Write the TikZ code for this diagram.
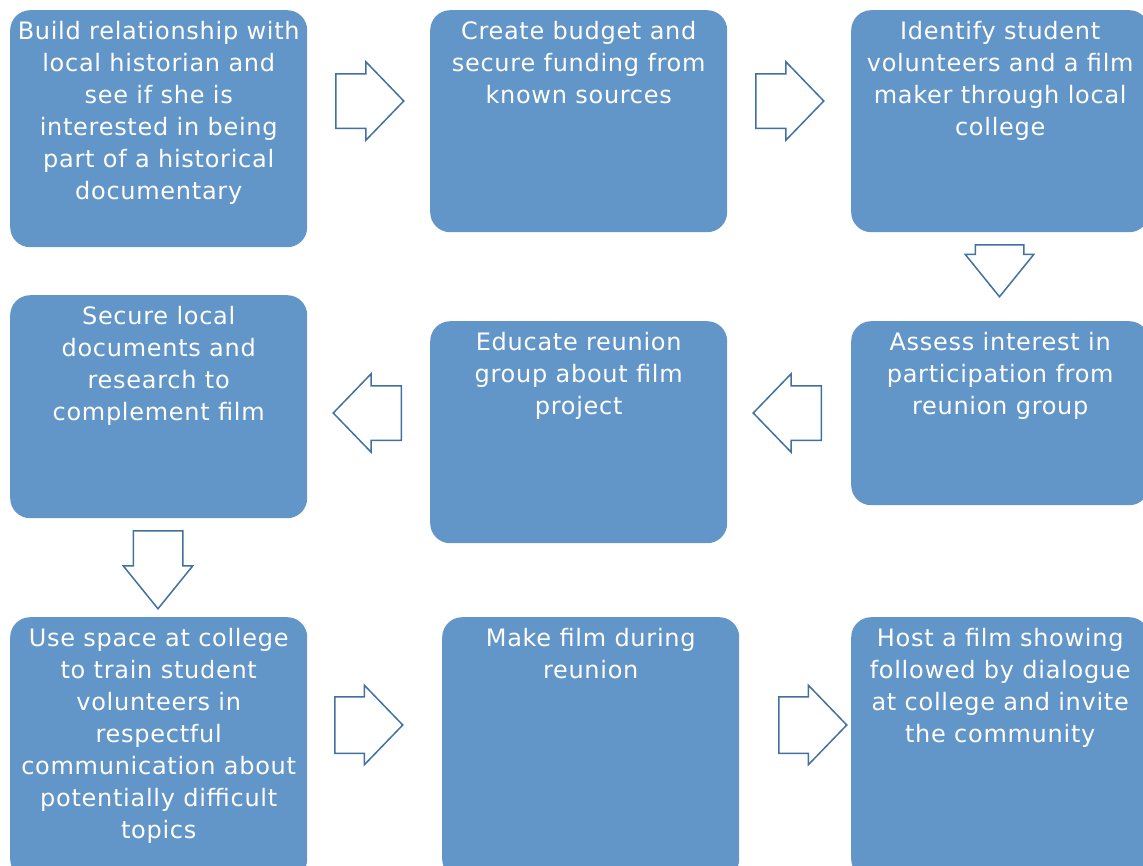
\documentclass[tikz,border=0pt]{standalone}
\usepackage{fontspec}
\setmainfont{DejaVu Sans}
\usepackage{tikz}
\definecolor{stageblue}{RGB}{98,149,200}
\definecolor{arrowblue}{RGB}{65,113,160}
\usetikzlibrary{positioning,shapes.arrows}
\tikzset{%
  stage/.style={rectangle, rounded corners=20pt, fill=stageblue, inner sep=0pt,
    anchor=north west},% blue process box
  stagetext/.style={align=center, inner sep=0pt, text=white,
    font=\fontsize{24}{32}\selectfont\addfontfeatures{LetterSpace=3}},% text at top of box
  flow/.style={draw=arrowblue, fill=white, line width=1.5pt, shape=single arrow,
    inner sep=0pt, text depth=0pt, text height=53pt, single arrow tip angle=92,
    minimum height=68pt, single arrow head extend=12pt, anchor=tail},% block arrow pointing right
  flowleft/.style={flow, shape border rotate=180},% block arrow pointing left
  flowdown/.style={flow, shape border rotate=270, single arrow tip angle=78,
    text height=0pt, text width=47pt, single arrow head extend=10pt}% block arrow pointing down
}

\begin{document}
\begin{tikzpicture}[x=1pt, y=-1pt]
\useasboundingbox (0,0) rectangle (1143,865);
\clip (0,0) rectangle (1143,865);

% first row
\node[stage, minimum width=297pt, minimum height=237pt] (a1) at (10,10) {};
\node[stage, minimum width=297pt, minimum height=222pt] (b1) at (430,10) {};
\node[stage, minimum width=298pt, minimum height=222pt] (c1) at (851,10) {};

% second row
\node[stage, minimum width=297pt, minimum height=223pt] (a2) at (10,295) {};
\node[stage, minimum width=297pt, minimum height=222pt] (b2) at (430,321) {};
\node[stage, minimum width=298pt, minimum height=184pt] (c2) at (851,321) {};

% third row
\node[stage, minimum width=297pt, minimum height=262pt] (a3) at (10,617) {};
\node[stage, minimum width=297pt, minimum height=262pt] (b3) at (442,617) {};
\node[stage, minimum width=298pt, minimum height=262pt] (c3) at (851,617) {};

\node[stagetext, below=11pt of a1.north] (a1t) {Build relationship with\\local historian and\\see if she is\\interested in being\\part of a historical\\documentary};
\node[stagetext, below=11pt of b1.north] (b1t) {Create budget and\\secure funding from\\known sources};
\node[stagetext, below=11pt of c1.north] (c1t) {Identify student\\volunteers and a film\\maker through local\\college};
\node[stagetext, below=11pt of a2.north] (a2t) {Secure local\\documents and\\research to\\complement film};
\node[stagetext, below=11pt of b2.north] (b2t) {Educate reunion\\group about film\\project};
\node[stagetext, below=11pt of c2.north] (c2t) {Assess interest in\\participation from\\reunion group};
\node[stagetext, below=11pt of a3.north] (a3t) {Use space at college\\to train student\\volunteers in\\respectful\\communication about\\potentially difficult\\topics};
\node[stagetext, below=11pt of b3.north] (b3t) {Make film during\\reunion};
\node[stagetext, below=11pt of c3.north] (c3t) {Host a film showing\\followed by dialogue\\at college and invite\\the community};

%%%%
\node[flow] (r1) at (335,101) {};
\node[flow] (r2) at (755,101) {};
\node[flowdown, minimum height=52pt] (d1) at (999.5,244) {};
\node[flowleft] (l1) at (402,413) {};
\node[flowleft] (l2) at (822,413) {};
\node[flowdown, minimum height=78pt, text width=48pt] (d2) at (158,530) {};
\node[flow, text height=55pt, single arrow head extend=11.5pt] (r3) at (334,725) {};
\node[flow, text height=55pt, single arrow head extend=11.5pt] (r4) at (778,725) {};

\end{tikzpicture}
\end{document}
